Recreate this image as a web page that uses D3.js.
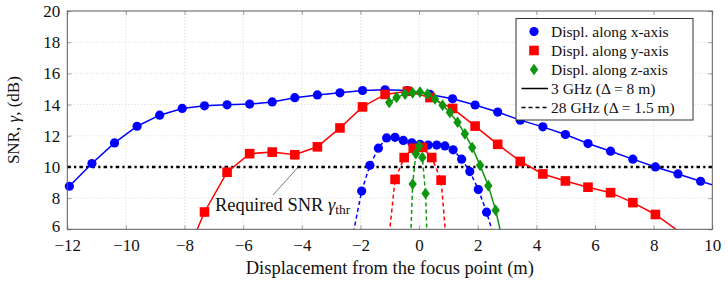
<!DOCTYPE html>
<html>
<head>
<meta charset="utf-8">
<script src="https://cdn.jsdelivr.net/npm/d3@7"></script>
<style>
  body { margin: 0; background: #fff; }
  text { font-family: "Liberation Serif", "DejaVu Serif", serif; fill: #111; }
</style>
</head>
<body>
<div id="chart"></div>
<script>
// x ticks / y ticks
var xTicks = [-12, -10, -8, -6, -4, -2, 0, 2, 4, 6, 8, 10]
var yTicks = [6, 8, 10, 12, 14, 16, 18, 20]

// 3 GHz, displacement along x
var xPos3 = [-11.93, -11.16, -10.39, -9.62, -8.85, -8.08, -7.32, -6.55, -5.78, -5.01, -4.24, -3.47, -2.70, -1.93, -1.16,
             -0.40, 0.37, 1.14, 1.91, 2.68, 3.45, 4.22, 4.99, 5.76, 6.53, 7.29, 8.06, 8.83, 9.60, 10.37]
var snrX3 = [8.76, 10.22, 11.54, 12.61, 13.32, 13.75, 13.92, 13.98, 14.03, 14.17, 14.44, 14.62, 14.75, 14.90, 14.95,
             14.90, 14.65, 14.37, 13.97, 13.52, 13.00, 12.57, 12.08, 11.50, 11.01, 10.50, 10.00, 9.55, 9.08, 8.65]

// 3 GHz, displacement along y
var yPos3 = [-8.08, -7.32, -6.55, -5.78, -5.01, -4.24, -3.47, -2.70, -1.93, -1.16, -0.40, 0.37, 1.14, 1.91, 2.68,
             3.45, 4.22, 4.99, 5.76, 6.53, 7.29, 8.06, 8.83]
var snrY3 = [3.7, 7.11, 9.66, 10.85, 10.95, 10.78, 11.29, 12.50, 13.85, 14.65, 14.85, 14.45, 13.75, 12.62, 11.45,
             10.35, 9.55, 9.10, 8.70, 8.35, 7.71, 6.95, 5.90]

// 3 GHz, displacement along z
var zPos3 = [-1.02, -0.77, -0.48, -0.22, 0.03, 0.29, 0.54, 0.80, 1.05, 1.31, 1.56, 1.81, 2.08, 2.36, 2.61, 2.87]
var snrZ3 = [14.13, 14.46, 14.67, 14.75, 14.80, 14.67, 14.36, 13.96, 13.49, 12.87, 12.12, 11.25, 10.10, 8.80, 7.22, 5.10]

// 28 GHz
var xPos28 = [-2.24, -1.96, -1.68, -1.39, -1.11, -0.82, -0.54, -0.25, 0.03, 0.31, 0.60, 0.88, 1.16, 1.45, 1.73, 2.02, 2.30, 2.59]
var snrX28 = [5.8, 8.45, 10.1, 11.2, 11.86, 11.9, 11.7, 11.55, 11.45, 11.4, 11.4, 11.35, 11.1, 10.5, 9.7, 8.55, 7.1, 5.3]
var yPos28 = [-1.14, -0.82, -0.51, -0.20, 0.12, 0.43, 0.75, 1.06]
var snrY28 = [3.5, 9.2, 10.6, 11.2, 11.25, 10.6, 9.15, 2.2]
var zPos28 = [-0.33, -0.22, -0.11, 0.00, 0.11, 0.22, 0.33]
var snrZ28 = [3.4, 8.9, 10.85, 11.35, 10.6, 8.3, 2.2]

var snrThr = 10

var legendLabels = ["Displ. along x-axis", "Displ. along y-axis", "Displ. along z-axis",
                    "3 GHz (\u0394 = 8 m)", "28 GHz (\u0394 = 1.5 m)"]

var blue = "#0000ff", red = "#ff0000", green = "#0f960f"

var width = 728, height = 281
var margin = { top: 11, right: 15.7, bottom: 51.7, left: 67.3 }

var svg = d3.select("#chart").append("svg")
    .attr("width", width)
    .attr("height", height)

var x = d3.scaleLinear().domain([-12, 10]).range([margin.left, width - margin.right])
var y = d3.scaleLinear().domain([6, 20]).range([height - margin.bottom, margin.top])

svg.append("defs").append("clipPath").attr("id", "plotclip")
    .append("rect")
    .attr("x", x(-12)).attr("y", y(20))
    .attr("width", x(10) - x(-12)).attr("height", y(6) - y(20))

// grid
var grid = svg.append("g")
grid.selectAll(".vg").data(xTicks.slice(1, -1)).enter().append("line")
    .attr("x1", function(d) { return x(d) }).attr("x2", function(d) { return x(d) })
    .attr("y1", y(6)).attr("y2", y(20))
    .style("stroke", "#cfcfcf").style("stroke-width", 0.8).style("stroke-dasharray", "1,2.2")
grid.selectAll(".hg").data(yTicks.slice(1, -1)).enter().append("line")
    .attr("y1", function(d) { return y(d) }).attr("y2", function(d) { return y(d) })
    .attr("x1", x(-12)).attr("x2", x(10))
    .style("stroke", "#cfcfcf").style("stroke-width", 0.8).style("stroke-dasharray", "1,2.2")

// axes (inner ticks, labels)
var xAxis = d3.axisBottom(x).tickValues(xTicks).tickSizeInner(-4).tickSizeOuter(0)
    .tickPadding(10).tickFormat(function(d) { return d < 0 ? "\u2212" + Math.abs(d) : d })
var gx = svg.append("g").attr("transform", "translate(0," + y(6) + ")").call(xAxis)
var xAxisTop = d3.axisTop(x).tickValues(xTicks).tickSizeInner(-4).tickSizeOuter(0).tickFormat("")
var gxt = svg.append("g").attr("transform", "translate(0," + y(20) + ")").call(xAxisTop)

var yAxis = d3.axisLeft(y).tickValues(yTicks).tickSizeInner(-4).tickSizeOuter(0).tickPadding(7)
var gy = svg.append("g").attr("transform", "translate(" + x(-12) + ",0)").call(yAxis)
var yAxisR = d3.axisRight(y).tickValues(yTicks).tickSizeInner(-4).tickSizeOuter(0).tickFormat("")
var gyr = svg.append("g").attr("transform", "translate(" + x(10) + ",0)").call(yAxisR)

;[gx, gxt, gy, gyr].forEach(function(g) {
    g.select(".domain").remove()
    g.selectAll(".tick line").style("stroke", "#8a8a8a").style("stroke-width", 0.8)
    g.selectAll("text").style("font-size", "17px").style("font-family", "Liberation Serif").attr("fill", "#111")
})
gx.selectAll("text").attr("dy", "0.7em")
// lift the lowest y label a touch so it clears the first x label
gy.selectAll(".tick").filter(function(d) { return d == 6 }).select("text").attr("dy", "0.12em")

// threshold line
svg.append("line")
    .attr("x1", x(-12)).attr("x2", x(10))
    .attr("y1", y(snrThr)).attr("y2", y(snrThr))
    .style("stroke", "black").style("stroke-width", 2.6)
    .style("stroke-dasharray", "3.5,3.2,2.2,3.2")

// series
var series = [
    { xs: xPos3, ys: snrX3, color: blue, shape: "circle", dash: null },
    { xs: yPos3, ys: snrY3, color: red, shape: "square", dash: null },
    { xs: zPos3, ys: snrZ3, color: green, shape: "diamond", dash: null },
    { xs: xPos28, ys: snrX28, color: blue, shape: "circle", dash: "4,3" },
    { xs: yPos28, ys: snrY28, color: red, shape: "square", dash: "4,3" },
    { xs: zPos28, ys: snrZ28, color: green, shape: "diamond", dash: "4,3" }
]

var line = d3.line().x(function(d) { return x(d[0]) }).y(function(d) { return y(d[1]) })

function drawMarker(g, shape, color, cx, cy) {
    if (shape == "circle") {
        g.append("circle").attr("cx", cx).attr("cy", cy).attr("r", 4.6).style("fill", color)
    } else if (shape == "square") {
        g.append("rect").attr("x", cx - 4.8).attr("y", cy - 4.8).attr("width", 9.6).attr("height", 9.6).style("fill", color)
    } else {
        g.append("path").attr("d", "M" + cx + "," + (cy - 5.8) + "L" + (cx + 4.2) + "," + cy + "L" + cx + "," + (cy + 5.8) + "L" + (cx - 4.2) + "," + cy + "Z")
            .style("fill", color)
    }
}

series.forEach(function(s) {
    var pts = s.xs.map(function(v, i) { return [v, s.ys[i]] })
    var g = svg.append("g")
    g.append("path")
        .attr("d", line(pts))
        .attr("clip-path", "url(#plotclip)")
        .style("fill", "none")
        .style("stroke", s.color)
        .style("stroke-width", 1.5)
        .style("stroke-dasharray", s.dash)
    pts.filter(function(p) { return p[0] >= -12 && p[0] <= 10 && p[1] >= 6 && p[1] <= 20 })
        .forEach(function(p) { drawMarker(g, s.shape, s.color, x(p[0]), y(p[1])) })
})

// frame
svg.append("rect")
    .attr("x", x(-12)).attr("y", y(20))
    .attr("width", x(10) - x(-12)).attr("height", y(6) - y(20))
    .style("fill", "none").style("stroke", "#5a5a5a").style("stroke-width", 1)

// annotation
svg.append("line")
    .attr("x1", 273).attr("y1", 195)
    .attr("x2", x(-4.12)).attr("y2", y(snrThr))
    .style("stroke", "#444").style("stroke-width", 0.7)
var ann = svg.append("text").attr("x", 215).attr("y", 211).style("font-size", "18.5px")
ann.append("tspan").text("Required SNR ")
ann.append("tspan").text("\u03b3").style("font-style", "italic")
ann.append("tspan").text("thr").attr("dy", 3).style("font-size", "13.5px")

// axis titles
svg.append("text")
    .attr("x", (x(-12) + x(10)) / 2).attr("y", 274)
    .attr("text-anchor", "middle").style("font-size", "18.5px")
    .text("Displacement from the focus point (m)")

var yl = svg.append("text")
    .attr("transform", "translate(19," + (y(6) + y(20)) / 2 + ") rotate(-90)")
    .attr("text-anchor", "middle").style("font-size", "17px")
yl.append("tspan").text("SNR, ")
yl.append("tspan").text("\u03b3").style("font-style", "italic")
yl.append("tspan").text(", (dB)")

// legend
var lg = svg.append("g").attr("transform", "translate(516,18.5)")
lg.append("rect").attr("width", 177).attr("height", 101.5)
    .style("fill", "white").style("stroke", "#333").style("stroke-width", 1)
var rowY = function(i) { return 13 + i * 19 }
var shapes = ["circle", "square", "diamond"]
var colors = [blue, red, green]
legendLabels.forEach(function(lab, i) {
    if (i < 3) {
        drawMarker(lg, shapes[i], colors[i], 18, rowY(i))
    } else {
        lg.append("line").attr("x1", 5.5).attr("x2", 32).attr("y1", rowY(i)).attr("y2", rowY(i))
            .style("stroke", "black").style("stroke-width", 1.5)
            .style("stroke-dasharray", i == 4 ? "4,3" : null)
    }
    lg.append("text").attr("x", 35).attr("y", rowY(i)).attr("dy", "0.35em")
        .style("font-size", "15.5px").text(lab)
})
</script>
</body>
</html>
